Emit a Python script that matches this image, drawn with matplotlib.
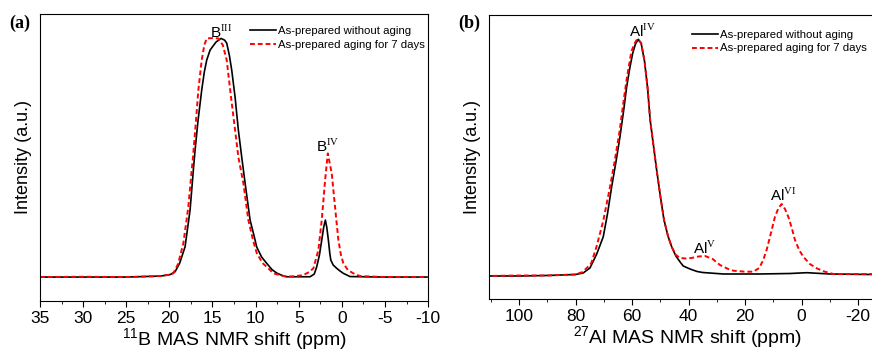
import numpy as np
import matplotlib.pyplot as plt

plt.rcParams['font.family'] = 'Liberation Sans'
plt.rcParams['mathtext.fontset'] = 'custom'
plt.rcParams['mathtext.rm'] = 'Liberation Serif'
plt.rcParams['mathtext.sf'] = 'Liberation Sans'

# 11B spectra (ppm, intensity a.u.)
b_fresh_ppm = [35, 30, 25, 21, 19.9, 19.34, 18.8, 18.18, 17.60, 17.22, 17.02, 16.67, 16.25, 15.95,
               15.67, 15.28, 14.6, 14.01, 13.6, 13.35, 13.05, 12.77, 12.38, 12.0, 11.61, 11.22,
               10.64, 10.2, 9.87, 9.3, 8.71, 8.1, 7.55, 6.9, 6.39, 3.69, 3.2, 2.91, 2.6, 2.33, 2.1,
               1.91, 1.75, 1.56, 1.4, 1.28, 1.0, 0.59, 0.2, -0.18, -0.95, -5, -10]
b_fresh_int = [0, 0, 0, 1, 2.5, 5.3, 14, 30.3, 67, 107, 127, 157, 187, 205,
               217, 227, 235, 238.7, 237, 234, 222, 207, 180, 147, 120, 94,
               57, 42, 30, 20, 13.7, 7.5, 4, 1.5, 0.3, 0.3, 3, 10.3, 22, 37, 50,
               57, 50, 37, 24, 17, 12, 8.7, 6, 3.7, 0.5, 0, 0]
b_aged_ppm = [35, 30, 25, 21, 19.9, 19.54, 19.0, 18.38, 17.80, 17.41, 17.29, 16.91, 16.64, 16.25,
              15.95, 15.67, 15.0, 14.32, 13.8, 13.35, 12.85, 12.38, 12.0, 11.42, 10.84, 10.3,
              9.87, 9.2, 8.52, 7.94, 6.39, 5.3, 4.46, 3.8, 3.30, 2.72, 2.33, 1.94, 1.63, 1.17,
              0.79, 0.40, 0.1, -0.18, -0.7, -1.34, -2.1, -5, -10]
b_aged_int = [0, 0.3, 0, 1, 2.5, 3.7, 13, 33.7, 70.3, 107, 117, 157, 187, 217,
              232, 238.7, 239, 238.7, 232, 217, 180, 147, 120, 94, 57, 37,
              24, 14, 8.7, 3.7, 0.3, 1, 2, 5, 8.7, 27, 57, 97, 123.7, 103.7,
              70.3, 37, 22, 13.7, 7, 3.7, 1, 0, 0]

# 27Al spectra (ppm, intensity a.u.)
al_fresh_ppm = [112, 100, 90, 80, 77.3, 74.9, 72.5, 70.18, 68.7, 67.21, 65.7, 64.27, 63.0, 61.9,
                60.8, 59.78, 58.8, 57.8, 56.8, 55.6, 54.5, 53.6, 52.4, 51.3, 50.0, 48.7, 47.3,
                46.0, 44.5, 43.0, 41.9, 39.5, 37.0, 35.0, 27.7, 14.8, 4.1, -1.8, -10, -24.2, -32]
al_fresh_int = [0, 0, 0.5, 1.5, 3, 8, 22, 39.3, 62, 89.3, 114, 139.3, 165, 189.3,
                208, 222.7, 232, 236.7, 233, 215, 188, 156, 130, 106, 80, 56, 40,
                29.3, 20, 14, 10, 7, 4.5, 3.5, 2, 2, 2.5, 3.3, 2, 1.5, 1.5]
al_aged_ppm = [112, 100, 90, 80, 77.5, 76.0, 74.4, 72.5, 70.2, 68.0, 66.2, 64.4, 63.0, 61.9,
               60.2, 59.0, 58.2, 56.8, 55.6, 54.5, 53.6, 52.4, 51.3, 50.0, 48.7, 47.3, 46.0,
               44.5, 43.0, 41.0, 39.0, 36.5, 34.2, 31.5, 28.9, 26.0, 24.2, 20.0, 17.1, 15.0,
               13.6, 12.3, 11.2, 9.44, 8.2, 7.07, 5.9, 4.74, 3.5, 2.37, 0.9, -0.57, -2.9,
               -5.31, -8.0, -11.2, -24.2, -32]
al_aged_int = [0, 0.5, 0.5, 1.5, 4, 8, 13, 30, 55, 86, 114, 145, 175, 197,
               225, 233, 237, 233, 215, 188, 156, 130, 106, 80, 56, 40, 29.3,
               21, 18, 17.5, 18, 19.5, 20, 17, 11, 7, 5.3, 4.3, 4.3, 8,
               16, 27, 39.3, 59.3, 68, 72, 67, 59.3, 48, 36, 26, 19.3, 12,
               7.7, 4.5, 2, 2, 2]

fresh_label = 'As-prepared without aging'
aged_label = 'As-prepared aging for 7 days'

fig = plt.figure(figsize=(8.72, 3.53), dpi=100)
axa = fig.add_axes([0.0459, 0.148, 0.445, 0.812])
axb = fig.add_axes([0.5608, 0.153, 0.4558, 0.8045])

# panel (a)
axa.plot(b_fresh_ppm, b_fresh_int, c='black', lw=1.2, label=fresh_label)
axa.plot(b_aged_ppm, b_aged_int, c='red', lw=1.4, ls=(0, (2.5, 1.5)), label=aged_label)
axa.set_xlim(35, -10)
axa.set_ylim(-23.7, 263)
axa.set_xticks(np.arange(35, -11, -5))
axa.set_xticks(np.arange(35, -11, -2.5), minor=True)
axa.set_xticklabels([str(int(v)) for v in np.arange(35, -11, -5)], fontsize=12.5)
axa.set_yticks([])
axa.tick_params(axis='x', which='major', direction='out', length=4)
axa.tick_params(axis='x', which='minor', direction='out', length=2.5)
axa.set_xlabel(r'$^{\mathsf{11}}$B MAS NMR shift (ppm)', fontsize=14, labelpad=0)
axa.set_ylabel('Intensity (a.u.)', fontsize=13, labelpad=6)
axa.text(14.0, 236, r'B$^{\mathrm{III}}$', fontsize=11, ha='center', va='bottom')
axa.text(1.6, 122, r'B$^{\mathrm{IV}}$', fontsize=11, ha='center', va='bottom')
axa.legend(loc='upper left', bbox_to_anchor=(0.52, 0.985), frameon=False, fontsize=8.2,
           handlelength=2.3, handletextpad=0.2, labelspacing=0.3, borderaxespad=0.3)
fig.text(0.011, 0.935, '(a)', fontsize=13, fontweight='bold', family='Liberation Serif',
         va='center')

# panel (b)
axb.plot(al_fresh_ppm, al_fresh_int, c='black', lw=1.2, label=fresh_label)
axb.plot(al_aged_ppm, al_aged_int, c='red', lw=1.4, ls=(0, (2.5, 1.5)), label=aged_label)
axb.set_xlim(110.6, -30)
axb.set_ylim(-23, 261)
axb.set_xticks(np.arange(100, -21, -20))
axb.set_xticks(np.arange(110, -31, -10), minor=True)
axb.set_xticklabels([str(int(v)) for v in np.arange(100, -21, -20)], fontsize=12.5)
axb.set_yticks([])
axb.tick_params(axis='x', which='major', direction='out', length=4)
axb.tick_params(axis='x', which='minor', direction='out', length=2.5)
axb.set_xlabel(r'$^{\mathsf{27}}$Al MAS NMR shift (ppm)', fontsize=14, labelpad=0)
axb.set_ylabel('Intensity (a.u.)', fontsize=13, labelpad=6)
axb.text(56.5, 236, r'Al$^{\mathrm{IV}}$', fontsize=11, ha='center', va='bottom')
axb.text(34.5, 19, r'Al$^{\mathrm{V}}$', fontsize=11, ha='center', va='bottom')
axb.text(6.5, 72, r'Al$^{\mathrm{VI}}$', fontsize=11, ha='center', va='bottom')
axb.legend(loc='upper left', bbox_to_anchor=(0.49, 0.975), frameon=False, fontsize=8.2,
           handlelength=2.3, handletextpad=0.2, labelspacing=0.3, borderaxespad=0.3)
fig.text(0.525, 0.935, '(b)', fontsize=13, fontweight='bold', family='Liberation Serif',
         va='center')

fig.savefig('out.png', dpi=100)
